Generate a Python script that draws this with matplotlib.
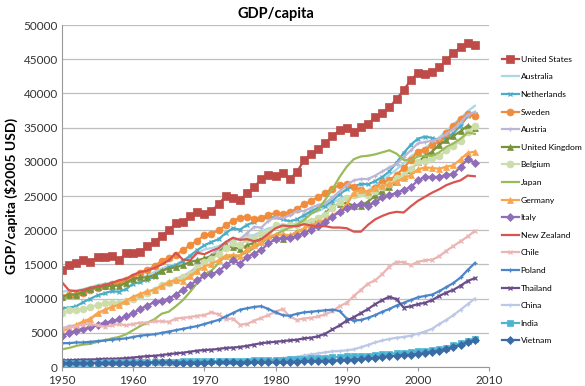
import numpy as np
import matplotlib
matplotlib.use("Agg")
import matplotlib.pyplot as plt

plt.rcParams['font.family'] = ['Lato', 'DejaVu Sans']

years = list(range(1950, 2009))

# GDP per capita, $2005 USD
united_states = [14200, 14900, 15200, 15600, 15350, 16100, 16100, 16250, 15650, 16650,
                 16700, 16800, 17700, 18300, 19200, 20000, 21050, 21200, 22080, 22660,
                 22370, 22810, 23830, 25000, 24710, 24420, 25440, 26320, 27490, 28070,
                 27920, 28360, 27500, 28500, 30260, 31140, 31870, 32750, 33770, 34650,
                 34940, 34360, 35090, 35530, 36550, 37130, 38000, 39180, 40500, 41960,
                 43000, 42840, 43130, 43860, 44880, 45900, 46780, 47370, 47070]
australia = [11000, 11200, 11200, 11400, 11700, 12000, 12200, 12300, 12400, 12800,
             13000, 13000, 13400, 13900, 14400, 14800, 15000, 15600, 16100, 16700,
             17200, 17400, 17700, 18200, 18400, 18800, 19200, 19300, 19800, 20300,
             20500, 20900, 20600, 21000, 21800, 22500, 22800, 23300, 24000, 24600,
             25000, 24700, 25000, 25800, 26600, 27300, 28100, 28900, 29800, 30800,
             31500, 32000, 32800, 33600, 34500, 35500, 36400, 37400, 38200]
netherlands = [8600, 8700, 8900, 9500, 10000, 10500, 10800, 11100, 11000, 11400,
               12200, 12400, 12800, 13200, 14000, 14600, 14900, 15500, 16300, 17100,
               17800, 18300, 18700, 19600, 20300, 20100, 20800, 21200, 21600, 21900,
               21900, 21600, 21300, 21600, 22200, 22800, 23300, 23600, 24300, 25300,
               26000, 26400, 26800, 26700, 27200, 27800, 28600, 29900, 31300, 32500,
               33400, 33700, 33500, 33200, 33500, 34200, 35300, 36700, 37000]
sweden = [10300, 10500, 10600, 10900, 11300, 11600, 11900, 12200, 12300, 12700,
          13200, 13800, 14200, 14800, 15500, 16000, 16400, 17100, 17800, 18500,
          19300, 19500, 20000, 20700, 21400, 21800, 22000, 21700, 21800, 22300,
          22500, 22400, 22700, 23100, 23800, 24300, 24800, 25500, 26100, 26600,
          26700, 26400, 25900, 25500, 26200, 27000, 27300, 28100, 29100, 30300,
          31500, 31800, 32400, 33000, 34200, 35200, 36300, 37000, 36700]
austria = [5600, 6000, 6100, 6400, 7000, 7800, 8300, 8800, 9100, 9400,
           10100, 10600, 10900, 11300, 11900, 12300, 12900, 13300, 13900, 14700,
           15700, 16400, 17300, 18100, 18800, 18700, 19600, 20500, 20400, 21400,
           21900, 21800, 22200, 22800, 22800, 23300, 23700, 24000, 24800, 25700,
           26600, 27300, 27500, 27500, 28000, 28600, 29200, 29700, 30700, 31700,
           32700, 32900, 33100, 33400, 34100, 34800, 35800, 36900, 37300]
united_kingdom = [10300, 10600, 10600, 11000, 11400, 11700, 11800, 11900, 11900, 12300,
                  12900, 13100, 13100, 13500, 14100, 14400, 14600, 14900, 15400, 15600,
                  15900, 16200, 16700, 17800, 17500, 17300, 17800, 18200, 18800, 19300,
                  18900, 18700, 19100, 19800, 20200, 20900, 21600, 22500, 23500, 23900,
                  24000, 23600, 23600, 24200, 25100, 25700, 26300, 27000, 27900, 28800,
                  30000, 30800, 31500, 32500, 33200, 33800, 34500, 35300, 34900]
belgium = [7900, 8300, 8300, 8500, 8800, 9100, 9300, 9400, 9300, 9600,
           10000, 10400, 10900, 11300, 12000, 12300, 12700, 13100, 13600, 14500,
           15300, 15800, 16500, 17400, 18100, 17800, 18700, 18900, 19400, 19800,
           20700, 20500, 20700, 20700, 21200, 21400, 21800, 22300, 23300, 24100,
           24700, 25100, 25400, 25100, 25800, 26400, 26700, 27600, 28100, 28900,
           30000, 30200, 30500, 30800, 31700, 32300, 33100, 34300, 35300]
japan = [2600, 2800, 3100, 3300, 3400, 3700, 3900, 4200, 4400, 4800,
         5400, 6000, 6500, 7000, 7800, 8100, 8900, 9800, 11000, 12300,
         13600, 14100, 15200, 16300, 16000, 16300, 16800, 17400, 18100, 18900,
         19400, 19900, 20400, 20800, 21500, 22400, 23000, 24500, 26000, 27800,
         29300, 30400, 30800, 30900, 31100, 31400, 31700, 31200, 30300, 30200,
         30800, 30900, 30900, 31400, 32200, 32700, 33400, 34300, 34100]
germany = [5200, 5700, 6200, 6700, 7100, 7900, 8400, 8800, 9100, 9700,
           10300, 10700, 11100, 11300, 11900, 12400, 12700, 12600, 13300, 14100,
           14700, 15100, 15600, 16300, 16400, 16300, 17200, 17800, 18300, 19100,
           19300, 19400, 19300, 19700, 20300, 20700, 21200, 21500, 22200, 22800,
           23800, 25500, 25900, 25600, 26200, 26500, 26700, 27100, 27600, 28100,
           28900, 29200, 29100, 29000, 29300, 29500, 30400, 31300, 31500]
italy = [4600, 5000, 5300, 5600, 5800, 6200, 6500, 6700, 7000, 7400,
         7900, 8500, 9000, 9500, 9700, 10000, 10600, 11300, 12000, 12700,
         13400, 13600, 14000, 14900, 15600, 15100, 16100, 16600, 17100, 18100,
         18700, 18800, 18900, 19100, 19600, 20100, 20600, 21200, 22000, 22700,
         23200, 23600, 23800, 23600, 24100, 24800, 25100, 25500, 25900, 26300,
         27300, 27800, 27800, 27800, 28100, 28200, 29300, 30400, 29900]
new_zealand = [12400, 11200, 11100, 11300, 11600, 11800, 12000, 12300, 12700, 12900,
               13500, 13900, 14100, 14500, 15000, 15600, 16700, 15700, 15600, 16700,
               16500, 17000, 17400, 18300, 18900, 18600, 18700, 18400, 18700, 19500,
               20300, 20700, 20600, 20600, 20900, 20700, 20600, 20600, 20400, 20400,
               20300, 19800, 19800, 20800, 21600, 22100, 22500, 22700, 22600, 23500,
               24300, 24900, 25500, 26000, 26600, 27000, 27300, 28000, 27900]
chile = [5700, 5800, 6000, 6200, 6300, 6100, 5900, 6100, 6300, 6100,
         6300, 6500, 6500, 6700, 6700, 6600, 7100, 7200, 7300, 7500,
         7600, 8000, 7700, 7000, 7100, 6200, 6300, 6800, 7200, 7600,
         8100, 8500, 7400, 6900, 7100, 7200, 7400, 7700, 8200, 8900,
         9400, 10400, 11300, 12200, 12700, 13600, 14700, 15400, 15300, 14900,
         15400, 15600, 15700, 16200, 17000, 17700, 18400, 19100, 19900]
poland = [3500, 3500, 3600, 3600, 3700, 3800, 3900, 4000, 4100, 4200,
          4400, 4600, 4700, 4800, 5000, 5200, 5400, 5600, 5800, 6000,
          6300, 6600, 6900, 7400, 7900, 8400, 8600, 8800, 8900, 8500,
          8000, 7600, 7500, 7800, 8000, 8100, 8200, 8300, 8400, 8200,
          7100, 6800, 6900, 7200, 7600, 8100, 8500, 9000, 9400, 9800,
          10200, 10400, 10600, 11100, 11700, 12300, 13100, 14200, 15200]
thailand = [1000, 1000, 1050, 1100, 1100, 1150, 1200, 1200, 1250, 1300,
            1400, 1500, 1600, 1650, 1750, 1900, 2000, 2100, 2250, 2400,
            2500, 2550, 2650, 2800, 2850, 2950, 3100, 3300, 3500, 3600,
            3700, 3800, 3900, 4000, 4200, 4300, 4500, 4900, 5500, 6100,
            6800, 7300, 7900, 8500, 9200, 9800, 10300, 9900, 8700, 8900,
            9200, 9400, 9800, 10400, 10900, 11300, 11900, 12600, 13000]
china = [400, 450, 500, 550, 550, 600, 650, 650, 700, 650,
         600, 500, 500, 550, 600, 650, 700, 650, 650, 700,
         800, 800, 850, 900, 900, 950, 950, 1000, 1100, 1150,
         1200, 1300, 1400, 1500, 1700, 1850, 2000, 2150, 2300, 2350,
         2450, 2600, 2900, 3250, 3600, 3900, 4100, 4300, 4400, 4600,
         4900, 5200, 5600, 6300, 6900, 7600, 8400, 9200, 10000]
india = [600, 600, 620, 640, 650, 660, 680, 680, 700, 700,
         720, 740, 750, 770, 800, 780, 780, 820, 830, 860,
         880, 880, 870, 890, 900, 950, 950, 1000, 1050, 1000,
         1050, 1100, 1120, 1180, 1220, 1260, 1300, 1340, 1430, 1500,
         1560, 1560, 1620, 1680, 1760, 1860, 1970, 2020, 2110, 2240,
         2300, 2380, 2440, 2590, 2760, 3200, 3500, 3800, 4100]
vietnam = [550, 560, 570, 580, 590, 600, 610, 620, 630, 640,
           650, 660, 670, 680, 680, 680, 670, 650, 650, 660,
           670, 680, 690, 690, 680, 670, 700, 720, 710, 700,
           690, 720, 760, 800, 850, 880, 900, 920, 960, 1000,
           1050, 1100, 1180, 1260, 1350, 1460, 1570, 1680, 1750, 1800,
           1900, 2050, 2200, 2400, 2650, 2950, 3250, 3600, 3950]

# name, values, color, marker, markersize
series = [
    ("United States", united_states, "#BE4B48", "s", 5.2),
    ("Australia", australia, "#A8D8EA", None, 0),
    ("Netherlands", netherlands, "#4BACC6", "x", 3),
    ("Sweden", sweden, "#F08C3C", "o", 5),
    ("Austria", austria, "#BDB5D5", "+", 3),
    ("United Kingdom", united_kingdom, "#77933C", "^", 4.5),
    ("Belgium", belgium, "#CCDDAA", "o", 5),
    ("Japan", japan, "#9BBB59", None, 0),
    ("Germany", germany, "#F9A54E", "^", 4.5),
    ("Italy", italy, "#8F6DB8", "D", 3.8),
    ("New Zealand", new_zealand, "#D9534F", None, 0),
    ("Chile", chile, "#EBB5B4", "x", 3),
    ("Poland", poland, "#4A86C8", "+", 3.5),
    ("Thailand", thailand, "#6A4E8C", "x", 3),
    ("China", china, "#BCC8E6", "+", 3),
    ("India", india, "#4BB4D2", "s", 4.5),
    ("Vietnam", vietnam, "#3B6BA5", "D", 3.8),
]

fig = plt.figure(figsize=(5.85, 3.86), dpi=100)
ax = fig.add_axes([0.106, 0.049, 0.730, 0.886])

for name, vals, col, mk, ms in series:
    ax.plot(years, vals, color=col, linewidth=1.6, marker=mk, markersize=ms,
            markeredgewidth=0.9 if mk in ("x", "+") else 0.5, label=name)

ax.set_xlim(1950, 2010)
ax.set_ylim(0, 50000)
ax.set_xticks(range(1950, 2011, 10))
ax.set_yticks(range(0, 50001, 5000))
ax.tick_params(axis='both', labelsize=8.5, length=0, pad=3, colors='#333333')
ax.tick_params(axis='x', length=3, direction='out', color='#999999')
ax.grid(axis='y', color='#BFBFBF', linewidth=0.9)
ax.set_axisbelow(True)
for s in ['top', 'right']:
    ax.spines[s].set_visible(False)
for s in ['left', 'bottom']:
    ax.spines[s].set_color('#999999')

ax.set_title("GDP/capita", fontsize=10.5, fontweight='bold', pad=5)
ax.set_ylabel("GDP/capita ($2005 USD)", fontsize=10, fontweight='bold', labelpad=4)

leg = ax.legend(loc='upper left', bbox_to_anchor=(1.03, 0.91), frameon=False,
                fontsize=6.1, handlelength=2.0, handletextpad=0.2,
                labelspacing=1.25, borderaxespad=0, borderpad=0)

fig.savefig("out.png", dpi=100)
